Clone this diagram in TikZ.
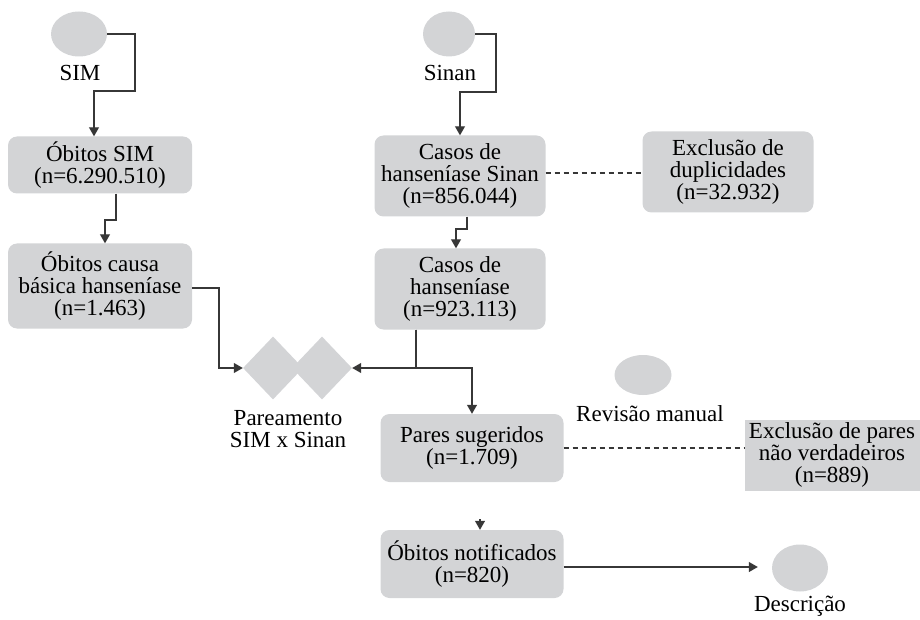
\documentclass[tikz,border=0pt]{standalone}
\usepackage{fontspec}
\setmainfont{Liberation Serif}
\usetikzlibrary{arrows.meta,shapes.geometric}
\definecolor{boxgray}{RGB}{211,212,214}
\definecolor{linegray}{RGB}{55,55,55}
\tikzset{
  box/.style={fill=boxgray, rounded corners=9pt, align=center, inner sep=0pt, font=\fontsize{23}{22}\selectfont},
  plainbox/.style={box, rounded corners=0pt},
  source/.style={ellipse, fill=boxgray, inner sep=0pt},
  lbl/.style={align=center, inner sep=0pt, font=\fontsize{23}{22}\selectfont},
  match/.style={diamond, fill=boxgray, inner sep=0pt, minimum width=60pt, minimum height=63pt},
  conn/.style={draw=linegray, line width=1.1pt, -{Triangle[length=9pt,width=10pt]}},
  excl/.style={draw=linegray, line width=1.1pt, dash pattern=on 5pt off 4pt}
}
\begin{document}
\begin{tikzpicture}[x=1pt, y=-1pt]
    \useasboundingbox (0,0) rectangle (920,620);
    % sources
    \node[source, minimum width=56pt, minimum height=45pt] (sim)   at (79,34)  {};
    \node[lbl] (simlbl) at (80,73) {SIM};
    \node[source, minimum width=52pt, minimum height=45pt] (sinan) at (449,34) {};
    \node[lbl] (sinanlbl) at (450,73) {Sinan};
    % left column
    \node[box, minimum width=184pt, minimum height=57pt] (obsim)   at (100,165) {Óbitos SIM\\(n=6.290.510)};
    \node[box, minimum width=184pt, minimum height=85pt] (obcausa) at (100,286) {Óbitos causa\\básica hanseníase\\(n=1.463)};
    % right column
    \node[box, minimum width=171pt, minimum height=81pt] (casossinan) at (460,176) {Casos de\\hanseníase Sinan\\(n=856.044)};
    \node[box, minimum width=171pt, minimum height=81pt] (dupl)       at (728,172) {Exclusão de\\duplicidades\\(n=32.932)};
    \node[box, minimum width=171pt, minimum height=81pt] (casos)      at (460,289) {Casos de\\hanseníase\\(n=923.113)};
    % linkage
    \node[match] (dia1) at (273,368) {};
    \node[match] (dia2) at (322,368) {};
    \node[lbl] (pairlbl) at (288,429) {Pareamento\\SIM x Sinan};
    \node[box, minimum width=183pt, minimum height=68pt] (pares) at (472,448) {Pares sugeridos\\(n=1.709)};
    \node[source, minimum width=57pt, minimum height=40pt] (rev) at (643,375) {};
    \node[lbl] (revlbl) at (650,414) {Revisão manual};
    \node[plainbox, minimum width=175pt, minimum height=71pt] (naover) at (832,455) {Exclusão de pares\\não verdadeiros\\(n=889)};
    \node[box, minimum width=183pt, minimum height=68pt] (obnot) at (472,564) {Óbitos notificados\\(n=820)};
    \node[source, minimum width=56pt, minimum height=47pt] (descr) at (800,568) {};
    \node[lbl] (descrlbl) at (800,606) {Descrição};
    \coordinate (gap) at (480,519);
    % connectors
    \draw[conn] (sim.east) -| (135,91) -| ([xshift=-6pt]obsim.north);
    \draw[conn] ([xshift=16pt]obsim.south) |- (105,220) -| ([xshift=5pt]obcausa.north);
    \draw[conn] ([yshift=-2pt]obcausa.east) -| (219,368) -- (dia1.west);
    \draw[conn] (sinan.east) -| (496,92) -| (casossinan.north);
    \draw[conn] ([xshift=7pt]casossinan.south) |- (456,229) -| ([xshift=-4pt]casos.north);
    \draw[excl] ([yshift=3pt]casossinan.east) -- ([yshift=3pt]casossinan.east -| dupl.west);
    \draw[conn] ([xshift=-44pt]casos.south) |- (dia2.east);
    \draw[conn] ([xshift=-44pt]casos.south) |- (472,368) -- (pares.north);
    \draw[excl] (pares.east) -- (pares.east -| naover.west);
    \draw[conn] (gap) -- ([xshift=8pt]obnot.north);
    \draw[conn, shorten >=14pt] ([yshift=-3pt]obnot.east) -- ([yshift=-3pt]obnot.east -| descr.west);
\end{tikzpicture}
\end{document}
